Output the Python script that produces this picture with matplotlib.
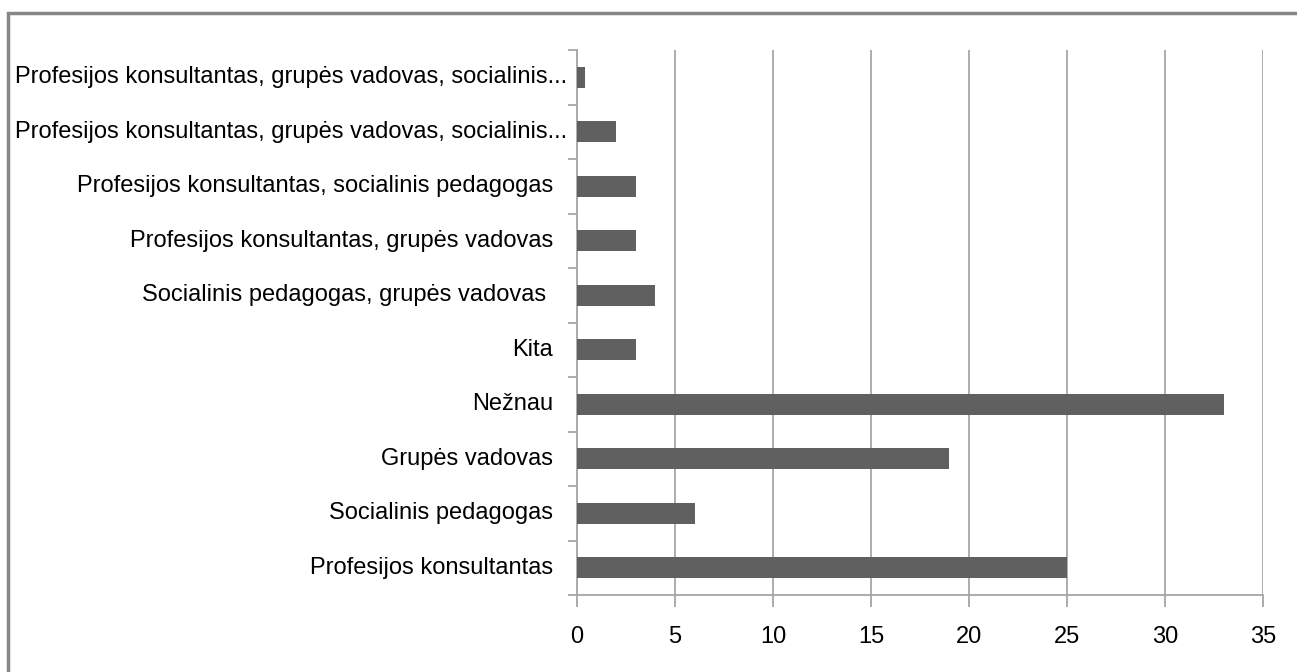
import matplotlib
matplotlib.use("Agg")
import matplotlib.pyplot as plt
from matplotlib.patches import Rectangle
from matplotlib.transforms import blended_transform_factory
import numpy as np

# categories bottom -> top, as Excel draws them
categories = [
    "Profesijos konsultantas",
    "Socialinis pedagogas",
    "Grupės vadovas",
    "Nežnau",
    "Kita",
    "Socialinis pedagogas, grupės vadovas ",
    "Profesijos konsultantas, grupės vadovas",
    "Profesijos konsultantas, socialinis pedagogas",
    "Profesijos konsultantas, grupės vadovas, socialinis...",
    "Profesijos konsultantas, grupės vadovas, socialinis...",
]
values = [25, 6, 19, 33, 3, 4, 3, 3, 2, 0.4]
xticks = [0, 5, 10, 15, 20, 25, 30, 35]

plt.rcParams['font.family'] = ['Liberation Sans', 'DejaVu Sans']

W, H = 1297, 672
fig = plt.figure(figsize=(W / 100, H / 100), dpi=100)
ax_w = 1263 - 577
ax = fig.add_axes([577 / W, 1 - 595 / H, ax_w / W, (595 - 50) / H])

y = np.arange(len(categories))
ax.barh(y, values, height=0.38, color='#606060', zorder=3)

ax.set_xlim(0, 35)
ax.set_ylim(-0.5, len(categories) - 0.5)
ax.set_xticks(xticks)
ax.set_xticklabels([str(t) for t in xticks], fontsize=17)
ax.grid(axis='x', color='#a6a6a6', linewidth=1.3, zorder=0)

# category labels; the truncated ones sit closer to the axis (Excel)
ax.set_yticks([])
ax.set_yticks(np.arange(-0.5, len(categories)), minor=True)
trans = blended_transform_factory(ax.transAxes, ax.transData)
for yi, lab in zip(y, categories):
    off = 10 if lab.endswith("...") else 24
    ax.text(-off / ax_w, yi, lab, transform=trans, ha='right', va='center',
            fontsize=17, color='black')

ax.tick_params(axis='y', which='minor', length=6.5, width=1.3, color='#a6a6a6')
ax.tick_params(axis='x', length=8.6, width=1.3, color='#a6a6a6', pad=14)

for s in ['top', 'right']:
    ax.spines[s].set_visible(False)
for s in ['left', 'bottom']:
    ax.spines[s].set_color('#a6a6a6')
    ax.spines[s].set_linewidth(1.3)

# outer chart frame, cut off at right and bottom like the source
fig.patches.append(Rectangle((8 / W, -0.1), 1.2, 1 - 13 / H + 0.1,
                             transform=fig.transFigure, fill=False,
                             edgecolor='#878787', linewidth=2.5))

fig.savefig("out.png", dpi=100)
